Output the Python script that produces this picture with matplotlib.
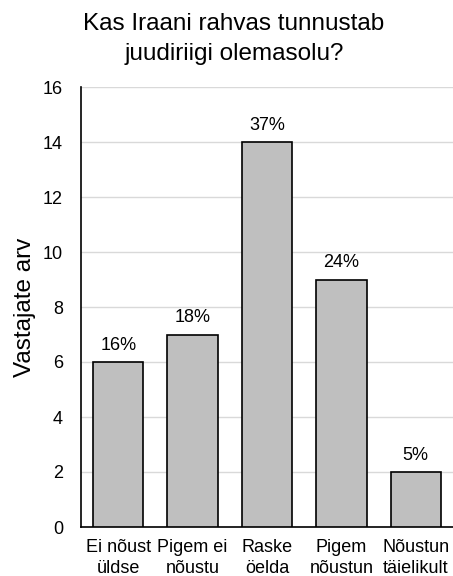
import matplotlib.pyplot as plt

categories = ["Ei nõust\nüldse", "Pigem ei\nnõustu", "Raske\nöelda", "Pigem\nnõustun", "Nõustun\ntäielikult"]
counts = [6, 7, 14, 9, 2]
percents = ["16%", "18%", "37%", "24%", "5%"]
yticks = [0, 2, 4, 6, 8, 10, 12, 14, 16]

plt.rcParams['font.family'] = ['Liberation Sans', 'DejaVu Sans']

fig = plt.figure(figsize=(4.53, 5.76), dpi=100)
ax = fig.add_axes([81 / 453, 49 / 576, 1 - 81 / 453, 440 / 576])

x = range(len(categories))
bars = ax.bar(x, counts, width=0.68, color='#bfbfbf', edgecolor='black', linewidth=1.2, zorder=3)

for b, p in zip(bars, percents):
    ax.annotate(p, (b.get_x() + b.get_width() / 2, b.get_height()),
                xytext=(0, 6), textcoords='offset points',
                ha='center', va='bottom', fontsize=13)

ax.set_xlim(-0.5, 4.5)
ax.set_ylim(0, 16)
ax.set_yticks(yticks)
ax.set_xticks(list(x))
ax.set_xticklabels(categories, fontsize=13, linespacing=1.25)
ax.tick_params(axis='y', length=0, pad=13, labelsize=13)
ax.tick_params(axis='x', length=0, pad=9)
ax.yaxis.grid(True, color='#d9d9d9', linewidth=1, zorder=0)
ax.set_axisbelow(True)
for s in ['top', 'right']:
    ax.spines[s].set_visible(False)
ax.spines['left'].set_linewidth(1.2)
ax.spines['bottom'].set_linewidth(1.2)

ax.set_ylabel("Vastajate arv", fontsize=17.5, labelpad=5)
fig.text(234 / 453, 1 - 39 / 576, "Kas Iraani rahvas tunnustab\njuudiriigi olemasolu?",
         ha='center', va='center', fontsize=17.5, linespacing=1.45)

fig.savefig("out.png", dpi=100)
